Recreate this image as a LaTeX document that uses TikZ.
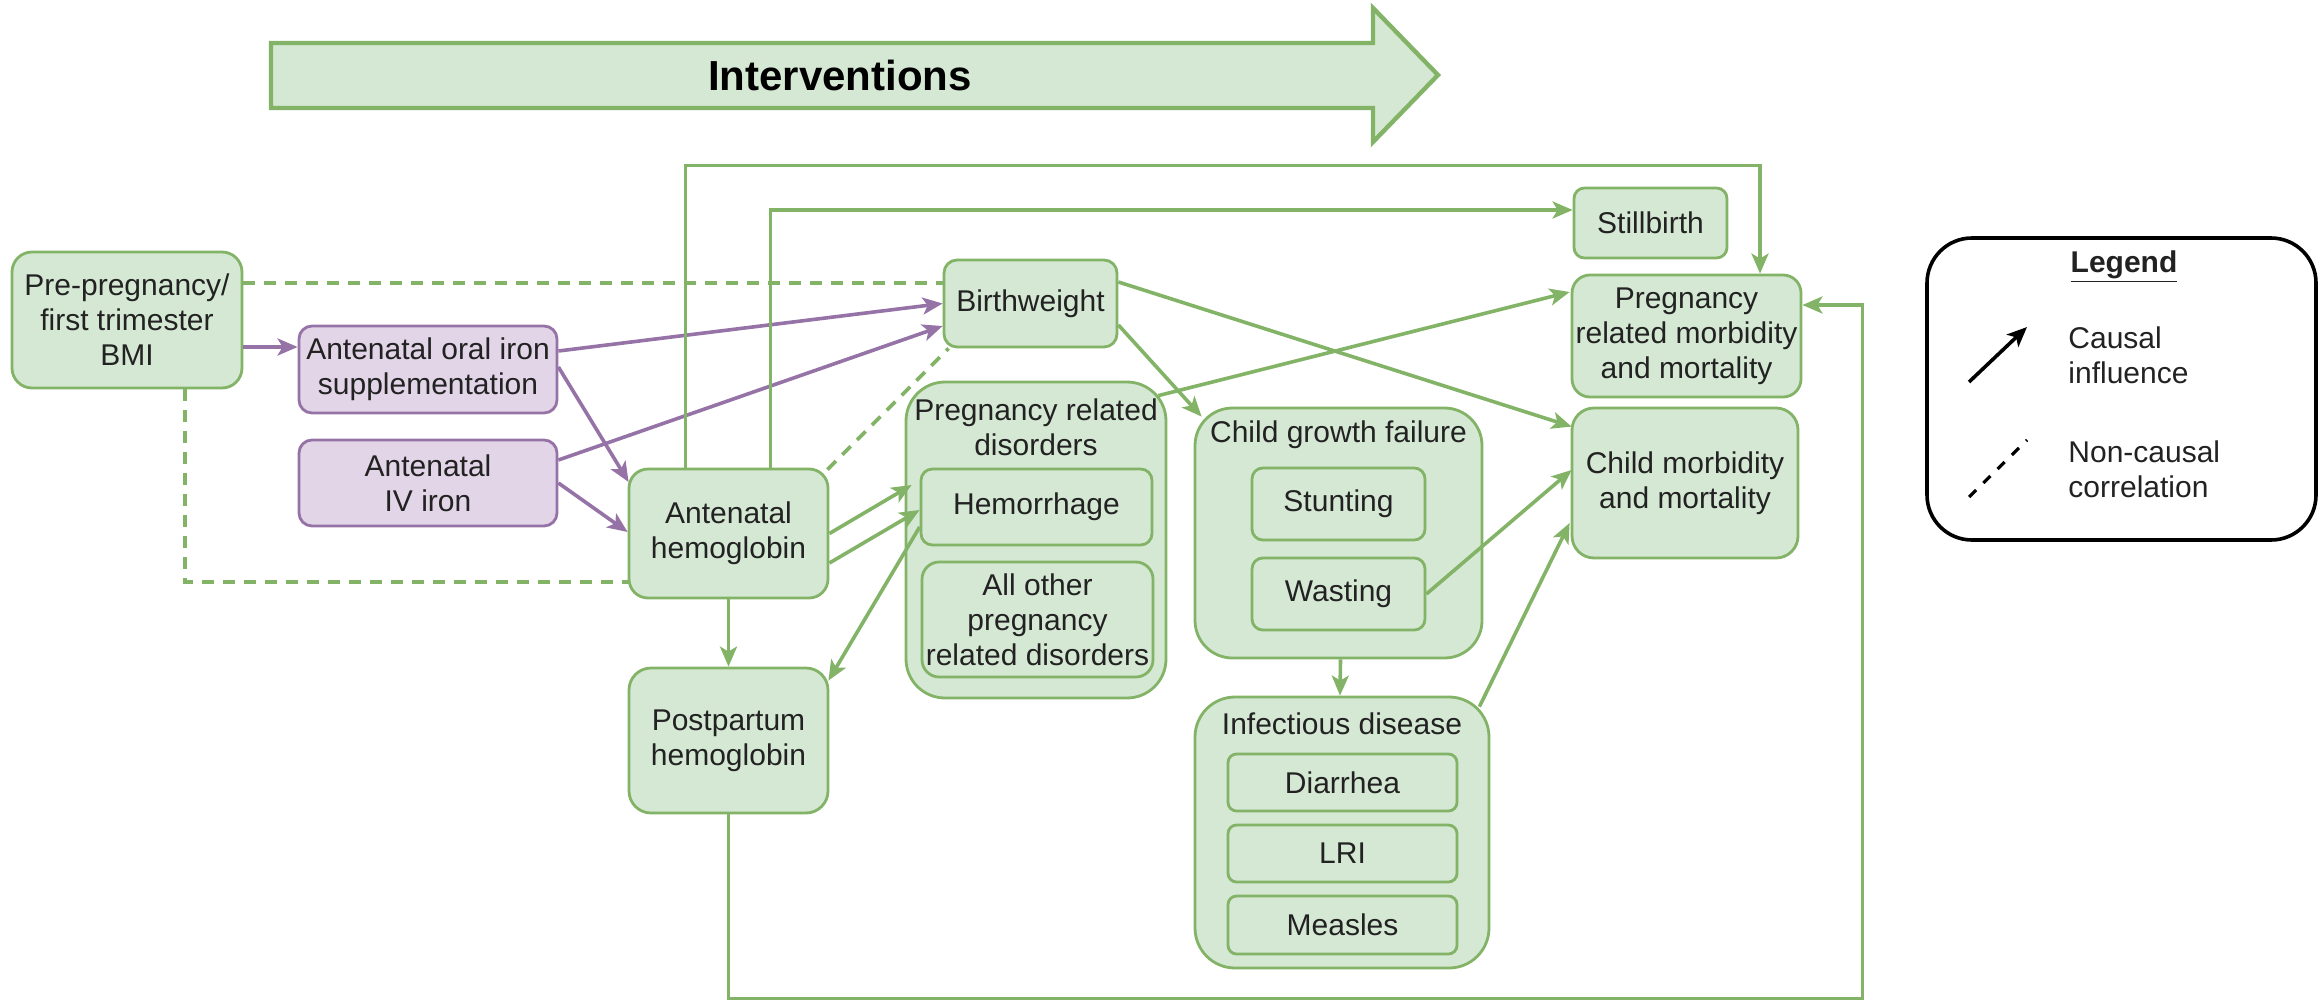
\documentclass[tikz,border=0pt]{standalone}
\usepackage{fontspec}
\setmainfont{Liberation Sans}
\usetikzlibrary{calc,arrows.meta}
\definecolor{gfill}{HTML}{D5E8D4}
\definecolor{gline}{HTML}{82B366}
\definecolor{pfill}{HTML}{E1D5E7}
\definecolor{pline}{HTML}{9673A6}
\definecolor{txt}{HTML}{222222}
\begin{document}
\begin{tikzpicture}[x=0.5pt,y=-0.5pt,
  every node/.style={font=\fontsize{15}{17.5}\selectfont, text=txt, inner sep=0pt, align=center},
  gbox/.style={draw=gline, fill=gfill, line width=1.4pt},
  pbox/.style={draw=pline, fill=pfill, line width=1.4pt},
  garrow/.style={draw=gline, line width=1.8pt, -{Stealth[length=10pt,width=8.5pt,inset=2.5pt]}},
  parrow/.style={draw=pline, line width=1.8pt, -{Stealth[length=10pt,width=8.5pt,inset=2.5pt]}},
  gdash/.style={draw=gline, line width=1.8pt, dash pattern=on 6pt off 4.5pt},
  gplain/.style={draw=gline, line width=1.8pt}
]
\useasboundingbox (0,0) rectangle (2323,1001);

% banner
\draw[line width=2.2pt, draw=gline, fill=gfill] (271,43) -- (1373,43) -- (1373,8) -- (1438,75) -- (1373,142) -- (1373,108) -- (271,108) -- cycle;
\node[font=\bfseries\fontsize{21}{25}\selectfont, text=black] (interv) at (840,75) {Interventions};

% boxes
\node[gbox, rounded corners=10pt, minimum width=115pt, minimum height=68pt] (bmi) at (127,320) {Pre-pregnancy/\\first trimester\\BMI};
\node[pbox, rounded corners=6.5pt, minimum width=129pt, minimum height=43.5pt] (oral) at (428,369.5) {Antenatal oral iron\\supplementation};
\node[pbox, rounded corners=6.5pt, minimum width=129pt, minimum height=43pt] (iv) at (428,483) {Antenatal\\IV iron};
\node[gbox, rounded corners=9.5pt, minimum width=99.5pt, minimum height=64.5pt] (anhb) at (728.5,533.5) {Antenatal\\hemoglobin};
\node[gbox, rounded corners=11pt, minimum width=99.5pt, minimum height=72.5pt] (pphb) at (728.5,740.5) {Postpartum\\hemoglobin};
\node[gbox, rounded corners=6.5pt, minimum width=86.5pt, minimum height=43.5pt] (bw) at (1030.5,303.5) {Birthweight};

\node[gbox, rounded corners=19.5pt, minimum width=130pt, minimum height=158pt] (prd) at (1036,540) {};
\node (prdlab) at (1036,427.5) {Pregnancy related\\disorders};
\node[gbox, rounded corners=5.7pt, minimum width=115.5pt, minimum height=38pt] (hem) at (1036.5,507) {Hemorrhage};
\node[gbox, rounded corners=8.6pt, minimum width=115.5pt, minimum height=57.5pt] (allo) at (1037.5,619.5) {All other\\pregnancy\\related disorders};

\node[gbox, rounded corners=18.75pt, minimum width=143.5pt, minimum height=125pt] (cgf) at (1338.5,533) {};
\node (cgflab) at (1338.5,435) {Child growth failure};
\node[gbox, rounded corners=5.4pt, minimum width=86.5pt, minimum height=36pt] (stun) at (1338.5,504) {Stunting};
\node[gbox, rounded corners=5.4pt, minimum width=86.5pt, minimum height=36pt] (wast) at (1338.5,594) {Wasting};

\node[gbox, rounded corners=20pt, minimum width=147pt, minimum height=135.5pt] (inf) at (1342,832.5) {};
\node (inflab) at (1342,724) {Infectious disease};
\node[gbox, rounded corners=4.3pt, minimum width=114.5pt, minimum height=28.5pt] (dia) at (1342.5,782.5) {Diarrhea};
\node[gbox, rounded corners=4.3pt, minimum width=114.5pt, minimum height=28.5pt] (lri) at (1342.5,853.5) {LRI};
\node[gbox, rounded corners=4.3pt, minimum width=114.5pt, minimum height=29pt] (mea) at (1342.5,925) {Measles};

\node[gbox, rounded corners=5.25pt, minimum width=76.5pt, minimum height=35pt] (still) at (1650.5,223) {Stillbirth};
\node[gbox, rounded corners=9pt, minimum width=114.5pt, minimum height=61pt] (pmm) at (1686.5,336) {Pregnancy\\related morbidity\\and mortality};
\node[gbox, rounded corners=11pt, minimum width=113pt, minimum height=75pt] (cmm) at (1685,483) {Child morbidity\\and mortality};

% legend
\node[draw=black, line width=1.8pt, rounded corners=22.5pt, minimum width=194.5pt, minimum height=151pt] (legend) at (2121.5,389) {};
\node[font=\bfseries\fontsize{15}{17.5}\selectfont] (legtitle) at (2124,267) {\underline{Legend}};
\coordinate (lca) at (1969,382);
\coordinate (lcb) at (2027,327);
\draw[black, line width=1.8pt, -{Stealth[length=10pt,width=8.5pt,inset=2.5pt]}] (lca) -- (lcb);
\node[anchor=west, align=left] (lcaus) at (2068,355) {Causal\\influence};
\coordinate (lda) at (1969,497);
\coordinate (ldb) at (2027,440);
\draw[black, line width=1.6pt, dash pattern=on 5pt off 5pt] (lda) -- (ldb);
\node[anchor=west, align=left] (lnon) at (2068,469) {Non-causal\\correlation};

% purple connectors
\draw[parrow] ($(bmi.east)+(0,27)$) -- ($(oral.west)+(0,-22.5)$);
\draw[parrow] ($(oral.east)+(0,-18.5)$) -- (bw.west);
\draw[parrow] ($(iv.east)+(0,-23)$) -- ($(bw.west)+(0,22.5)$);
\draw[parrow] ($(oral.east)+(0,-2.5)$) -- ($(anhb.west)+(1,-51.5)$);
\draw[parrow] (iv.east) -- ($(anhb.west)+(0,-1.5)$);

% dashed correlations
\draw[gdash] ($(bmi.east)+(0,-37)$) -- ($(bw.west)+(0,-20.5)$);
\draw[gdash] ($(bmi.south)+(58,0)$) |- ($(anhb.west)+(0,48.5)$);
\draw[gdash] ($(anhb.north east)+(-2,2)$) -- ($(bw.south west)+(6,0)$);

% green connectors
\draw[garrow] ($(anhb.north west)+(58,0)$) |- ($(pmm.north)+(73.5,-108)$) -- ($(pmm.north)+(73.5,0)$);
\draw[garrow] ($(anhb.north west)+(143,0)$) |- ($(still.west)+(0,-13)$);
\draw[garrow] (anhb.east) -- ($(hem.west)+(-8,-22)$);
\draw[garrow] ($(anhb.east)+(0,29.5)$) -- ($(hem.west)+(0,3)$);
\draw[garrow] ($(hem.west)+(0,20)$) -- ($(pphb.north east)+(-1,14)$);
\draw[garrow] (anhb.south) -- (pphb.north);
\draw[garrow] (pphb.south) -- ++(0,184) -| ($(pmm.east)+(60,-31)$) -- ($(pmm.east)+(0,-31)$);
\draw[garrow] ($(bw.east)+(0,21.5)$) -- ($(cgf.north west)+(8,10)$);
\draw[garrow] ($(bw.east)+(0,-21.5)$) -- ($(cmm.north west)+(1,20)$);
\draw[garrow] ($(prd.north east)+(-9,15)$) -- ($(pmm.west)+(-1,-44)$);
\draw[garrow] (wast.east) -- ($(cmm.west)+(1,-13)$);
\draw[garrow] ($(cgf.south)+(2,0)$) -- ($(inf.north)+(-2,0)$);
\draw[garrow] ($(inf.north east)+(-11,11)$) -- ($(cmm.west)+(-1,40)$);
\end{tikzpicture}
\end{document}
